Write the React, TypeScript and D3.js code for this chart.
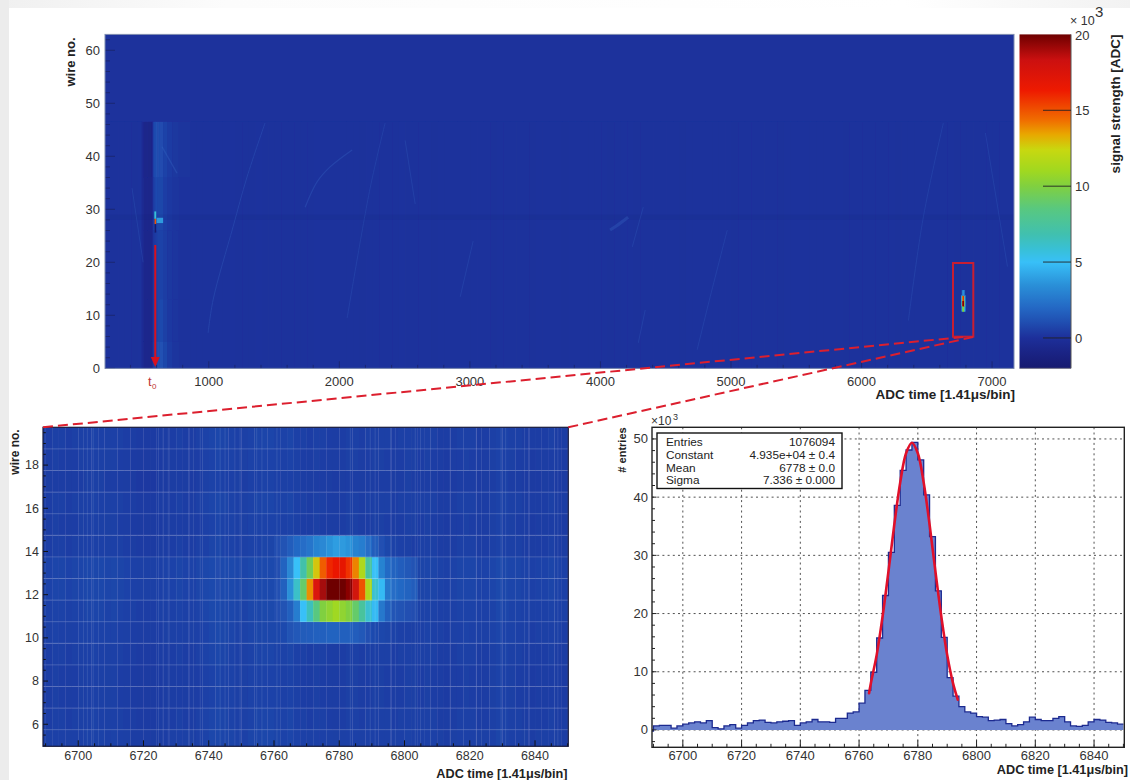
import React from "react";
import * as d3 from "d3";

// ---------- colour palette ----------
const paletteValues = [-2, -1, 0, 1.1, 2, 3.5, 5, 5.8, 6.8, 8.5, 10, 11, 12.4, 13.4, 14.3, 16.3, 18.3, 20];
const paletteColors = ["#171a70", "#1a2384", "#1d2f9a", "#2050b2", "#2468c4", "#2a90d8", "#38c0f8", "#38c0d8", "#40c0b0", "#58c880", "#80d040", "#a0d820", "#c8d810", "#e8a800", "#f07000", "#ee1a00", "#cc1010", "#6e0000"];
const colorTicks = [0, 5, 10, 15, 20];

// ---------- overview panel ----------
const overviewXTicks = [1000, 2000, 3000, 4000, 5000, 6000, 7000];
const overviewYTicks = [0, 10, 20, 30, 40, 50, 60];
const overviewStripeStart = 205;
const overviewStripeWidth = 50;
const overviewStripes = [
  0.09, 0.07, 0.1, 0.08, 0.06, 0.09, 0.1, 0.07, 0.08, 0.1, 0.12, 0.1, 0.09, 0.08, 0.11, 0.1, 0.07, 0.09, 0.1, 0.12,
  0.1, 0.08, 0.11, 0.13, 0.1, 0.09, 0.07, 0.1, 0.11, 0.09, 0.08, 0.1, 0.12, 0.1, 0.07, 0.09, 0.11, 0.1, 0.08, 0.06,
  0.09, 0.11, 0.1, 0.08, 0.1, 0.12, 0.09, 0.07, 0.1, 0.08, 0.06, 0.09, 0.1, 0.08, 0.07, 0.1, 0.11, 0.09, 0.08, 0.06,
  0.09, 0.07, 0.1, 0.11, 0.08, 0.06, 0.09, 0.1, 0.08, 0.07, 0.06, 0.08, 0.1, 0.07, 0.09, 0.1, 0.08, 0.06, 0.08, 0.1,
  0.07, 0.06, 0.08, 0.1, 0.09, 0.07, 0.1, 0.08, 0.06, 0.09, 0.11, 0.1, 0.07, 0.08, 0.1, 0.09, 0.06, 0.08, 0.1, 0.07,
  0.09, 0.1, 0.08, 0.06, 0.09, 0.07, 0.1, 0.11, 0.09, 0.07, 0.08, 0.1, 0.09, 0.06, 0.08, 0.1, 0.11, 0.08, 0.07, 0.1,
  0.08, 0.06, 0.09, 0.1, 0.08, 0.1, 0.07, 0.09, 0.1, 0.08, 0.06, 0.09, 0.07, 0.1, 0.08, 0.09, 0.07, 0.08, 0.09, 0.08,
];
const t0Edges = [485, 500, 530, 565, 575, 590, 605, 625, 650, 680, 720, 770, 860];
const t0Bands = [
  { from: 46.5, to: 36, values: [-0.3, -0.75, -0.8, -0.3, 0.9, 1.15, 1.0, 0.95, 0.65, 0.4, 0.25, 0.15] },
  { from: 36, to: 26, values: [-0.3, -0.7, -0.75, -0.3, 0.6, 0.9, 0.8, 0.75, 0.5, 0.33, 0.2, 0.12] },
  { from: 26, to: 13, values: [-0.25, -0.65, -0.7, -0.35, 0.3, 0.5, 0.65, 0.65, 0.45, 0.28, 0.18, 0.1] },
  { from: 13, to: 5, values: [-0.25, -0.65, -0.7, -0.3, 0.35, 0.6, 0.8, 0.85, 0.55, 0.3, 0.18, 0.1] },
  { from: 5, to: 0, values: [-0.25, -0.65, -0.7, -0.25, 0.45, 0.8, 1.05, 1.15, 0.8, 0.4, 0.2, 0.1] },
];
const t0Spots = [
  { t0: 583, t1: 597, w0: 28.2, w1: 29.6, v: 5.8 },
  { t0: 585, t1: 597, w0: 27.2, w1: 28.2, v: 15 },
  { t0: 585, t1: 597, w0: 25.6, w1: 27.2, v: -2 },
  { t0: 600, t1: 650, w0: 27.4, w1: 28.4, v: 3.8 },
];
const tracks = [
  { w: 0.8, pts: [[412, 34], [497, 20]] },
  { w: 1.4, pts: [[642, 41.8], [757, 36.8]] },
  { w: 1.0, pts: [[1431, 46.3], [1293, 36.1], [1186, 26.7], [1033, 12.9], [995, 6.7]] },
  { w: 1.2, pts: [[2098, 41.2], [1929, 38], [1830, 35.2], [1738, 30.4]] },
  { w: 0.8, pts: [[2351, 46.3], [2236, 34], [2060, 9.5]] },
  { w: 3.0, pts: [[4074, 26.1], [4130, 27], [4212, 28.5]] },
  { w: 0.8, pts: [[4972, 26.1], [4841, 13.5], [4741, 3.5]] },
  { w: 0.8, pts: [[4328, 30.4], [4244, 22.9]] },
  { w: 0.8, pts: [[4343, 11], [4290, 4.8]] },
  { w: 0.8, pts: [[2504, 43], [2581, 31]] },
  { w: 0.8, pts: [[3025, 24], [2926, 13.5]] },
  { w: 0.8, pts: [[6627, 46.3], [6474, 28.6], [6359, 9]] },
  { w: 0.8, pts: [[6949, 44.4], [7118, 19.2]] },
];

// ---------- zoomed heat map ----------
const heatXTicks = [6700, 6720, 6740, 6760, 6780, 6800, 6820, 6840];
const heatYTicks = [6, 8, 10, 12, 14, 16, 18];
const heatStart = 6688;
const heatBin = 2;
const heatRows = [5, 6, 7, 8, 9, 10, 11, 12, 13, 14, 15, 16, 17, 18, 19];
const heatRowOffset = [0.08, 0.04, 0, 0, 0.04, 0.1, 0.14, 0.2, 0.2, 0.03, 0, 0.04, -0.04, 0, 0.04];
const heatColumns = [
  0.5, 0.47, 0.52, 0.5, 0.47, 0.5, 0.52, 0.56, 0.58, 0.56, 0.52, 0.55, 0.5, 0.47, 0.4, 0.37, 0.37, 0.35, 0.4, 0.42,
  0.47, 0.5, 0.47, 0.44, 0.5, 0.58, 0.68, 0.72, 0.65, 0.62, 0.56, 0.52, 0.62, 0.65, 0.68, 0.68, 0.62, 0.6, 0.65, 0.56,
  0.5, 0.47, 0.52, 0.5, 0.47, 0.44, 0.47, 0.52, 0.52, 0.47, 0.5, 0.52, 0.52, 0.5, 0.47, 0.5, 0.56, 0.52, 0.5, 0.52,
  0.5, 0.44, 0.4, 0.44, 0.5, 0.52, 0.5, 0.44, 0.47, 0.52, 0.62, 0.58, 0.52, 0.5, 0.44, 0.4, 0.44, 0.47, 0.5, 0.44, 0.4,
];
const peakStart = 6760;
const peakRow14 = [1.0, 1.2, 1.6, 2.0, 2.2, 2.5, 3.0, 3.2, 3.6, 3.9, 3.8, 3.6, 3.0, 2.8, 2.2, 1.6, 1.1, 0.8, 0.65, 0.6, 0.55, 0.5];
const peakRow13 = [1.0, 1.8, 3.2, 5.0, 7.0, 9.5, 12.8, 14.8, 16.0, 16.5, 16.8, 15.8, 14.0, 11.5, 7.5, 5.0, 3.0, 2.1, 1.8, 1.6, 1.4, 1.2];
const peakRow12 = [1.1, 1.7, 3.5, 6.2, 9.0, 13.8, 17.5, 19.0, 20, 20, 20, 19.5, 18.0, 15.0, 11.5, 6.0, 4.8, 2.6, 2.2, 2.0, 1.8, 1.6];
const peakRow11 = [1.0, 1.2, 1.7, 2.8, 5.0, 6.5, 8.5, 10.0, 10.5, 11.0, 10.5, 10.0, 9.0, 7.5, 6.0, 4.8, 2.6, 1.7, 1.3, 1.2, 1.1, 1.0];
const peakRow10 = [0.8, 0.9, 1.2, 1.4, 1.5, 1.6, 1.7, 1.7, 1.8, 1.8, 1.7, 1.7, 1.6, 1.4, 1.1, 0.9, 0.8, 0.7, 0.65, 0.6, 0.6, 0.55];
const paleColumns = [
  6701.6, 6702.8, 6704.6, 6706.2, 6724.6, 6726, 6727.6, 6733.8, 6735.3, 6737.4, 6743.5, 6745, 6748, 6749.6, 6754.7,
  6756.3, 6760.9, 6783.4, 6789.5, 6791, 6795.7, 6797.2, 6803.3, 6804.9, 6808, 6814, 6822, 6823.6, 6829.6, 6831, 6836.8,
  6838.3, 6846, 6847,
];

// ---------- histogram ----------
const histXTicks = [6700, 6720, 6740, 6760, 6780, 6800, 6820, 6840];
const histYTicks = [0, 10, 20, 30, 40, 50];
const histStart = 6688;
const histBin = 2;
const histValues = [
  -0.2, 0.7, 0.8, 0.8, 0.3, 0.7, 1.0, 1.2, 1.4, 1.2, 1.6, 0.4, 0.2, 0.7, 0.9, 0.3, 0.8, 1.2, 1.6, 1.7, 1.3, 1.2, 1.4, 1.5,
  1.6, 0.8, 1.2, 1.4, 1.8, 1.4, 1.4, 1.3, 2.0, 2.0, 2.9, 3.1, 4.6, 6.8, 9.9, 15.8, 23.1, 30.5, 38.6, 44.6, 48.1, 49.4,
  46.4, 40.4, 33.2, 23.9, 15.9, 9.0, 5.8, 4.0, 3.1, 2.9, 2.3, 2.2, 1.6, 1.7, 1.8, 1.1, 0.7, 0.9, 1.4, 2.2, 1.8, 1.6, 1.6,
  2.0, 2.3, 1.4, 0.7, 0.6, 0.8, 1.4, 1.8, 1.7, 1.3, 1.2, 1.0,
];
const fitTimes = [6763.4, 6764, 6766, 6768, 6770, 6772, 6774, 6776, 6778, 6780, 6782, 6784, 6786, 6788, 6790, 6792, 6793.6];
const fitValues = [6.3, 8.0, 12.9, 19.5, 27.2, 35.3, 42.5, 47.55, 49.35, 47.55, 42.5, 35.3, 27.2, 19.5, 12.9, 8.0, 5.2];
const statNames = ["Entries", "Constant", "Mean", "Sigma"];
const statValues = ["1076094", "4.935e+04 ± 0.4", "6778 ± 0.0", "7.336 ± 0.000"];

// ---------- scales ----------
const color = d3.scaleLinear<string>().domain(paletteValues).range(paletteColors).clamp(true);

const ovX = d3.scaleLinear().domain([205, 7168]).range([105, 1014]);
const ovY = d3.scaleLinear().domain([0, 63]).range([368.3, 34.4]);
const cbY = d3.scaleLinear().domain([-2, 20]).range([368.3, 34.4]);
const htX = d3.scaleLinear().domain([6689.2, 6850.2]).range([43, 568.3]);
const htY = d3.scaleLinear().domain([4.98, 19.75]).range([746.3, 427.3]);
const hsX = d3.scaleLinear().domain([6689.5, 6850.3]).range([652, 1124.3]);
const hsY = d3.scaleLinear().domain([-2.98, 52]).range([747.3, 427.3]);

const FONT = "'Liberation Sans', Arial, sans-serif";
const INK = "#333";

const peakRows: Record<number, number[]> = { 14: peakRow14, 13: peakRow13, 12: peakRow12, 11: peakRow11, 10: peakRow10 };
const heatValue = (row: number, colIdx: number) => {
  const t = heatStart + colIdx * heatBin;
  const pk = peakRows[row];
  const k = (t - peakStart) / heatBin;
  if (pk && k >= 0 && k < pk.length) return pk[k];
  return heatColumns[colIdx] + heatRowOffset[heatRows.indexOf(row)];
};

const histEdges = histValues.map((_, i) => histStart + i * histBin);
const histPts: [number, number][] = histValues.map((v, i) => [histEdges[i], v]);
histPts.push([histStart + histValues.length * histBin, histValues[histValues.length - 1]]);
const histLine = d3.line<[number, number]>().x((d) => hsX(d[0])).y((d) => hsY(d[1])).curve(d3.curveStepAfter);
const histArea = d3.area<[number, number]>().x((d) => hsX(d[0])).y0(hsY(0)).y1((d) => hsY(d[1])).curve(d3.curveStepAfter);
const fitLine = d3.line<number>().x((_, i) => hsX(fitTimes[i])).y((d) => hsY(d)).curve(d3.curveCatmullRom);
const trackLine = d3.line<number[]>().x((d) => ovX(d[0])).y((d) => ovY(d[1])).curve(d3.curveCatmullRom);

const minorTicks = (a: number, b: number, step: number) => d3.range(a, b + step / 2, step);

const Ticks = ({ xs, ys, x, y, x0, y0, xLen, yLen, stroke, sw }: any) => (
  <g stroke={stroke} strokeWidth={sw} fill="none">
    {xs.map((t: number) => (
      <line key={"x" + t} x1={x(t)} x2={x(t)} y1={y0} y2={y0 - xLen} />
    ))}
    {ys.map((t: number) => (
      <line key={"y" + t} x1={x0} x2={x0 + yLen} y1={y(t)} y2={y(t)} />
    ))}
  </g>
);

export default function App() {
  const ovColW = ovX(1000) - ovX(1000 - overviewStripeWidth) + 0.6;
  return (
    <svg
      width={1130}
      height={780}
      viewBox="0 0 1130 780"
      style={{ position: "fixed", left: 0, top: 0, display: "block", background: "#fff" }}
      fontFamily={FONT}
    >
      <defs>
        <linearGradient id="topFade" x1="0" x2="1" y1="0" y2="0">
          <stop offset="0" stopColor="#f0f0f0" />
          <stop offset="0.2" stopColor="#fcfcfc" />
          <stop offset="0.8" stopColor="#ffffff" />
          <stop offset="1" stopColor="#f2f2f2" />
        </linearGradient>
        <linearGradient id="paletteBar" x1="0" x2="0" y1="1" y2="0">
          {paletteValues.map((v, i) => (
            <stop key={v} offset={(v + 2) / 22} stopColor={paletteColors[i]} />
          ))}
        </linearGradient>
        <clipPath id="ovClip"><rect x={105} y={34.4} width={909} height={334} /></clipPath>
        <clipPath id="htClip"><rect x={43} y={427.3} width={525.3} height={319} /></clipPath>
        <clipPath id="hsClip"><rect x={652} y={427.3} width={472.3} height={320} /></clipPath>
        <filter id="soft" x="-2%" y="-2%" width="104%" height="104%">
          <feGaussianBlur stdDeviation="0.55" />
        </filter>
      </defs>

      {/* page backdrop of the slide */}
      <rect x={0} y={0} width={1130} height={8} fill="url(#topFade)" />
      <rect x={0} y={0} width={9} height={780} fill="#ececec" />

      {/* ---------- overview ---------- */}
      <g clipPath="url(#ovClip)">
        <rect x={105} y={34} width={909} height={335} fill={color(0.1)} />
        <g filter="url(#soft)">
          {overviewStripes.map((v, i) => (
            <rect
              key={i}
              x={ovX(overviewStripeStart + i * overviewStripeWidth)}
              y={ovY(46.5)}
              width={ovColW}
              height={ovY(0) - ovY(46.5) + 4}
              fill={color(v)}
            />
          ))}
          {t0Bands.map((b, bi) =>
            b.values.map((v, i) => (
              <rect
                key={bi + "-" + i}
                x={ovX(t0Edges[i])}
                y={ovY(b.from)}
                width={ovX(t0Edges[i + 1]) - ovX(t0Edges[i]) + 0.3}
                height={ovY(b.to) - ovY(b.from) + (b.to === 0 ? 4 : 0.3)}
                fill={color(v)}
              />
            ))
          )}
        </g>
        <rect x={105} y={ovY(29)} width={909} height={ovY(28) - ovY(29)} fill="#101a60" opacity={0.08} />
        {tracks.map((tr, i) => (
          <path key={i} d={trackLine(tr.pts) ?? ""} fill="none" stroke="#3a6cc8" strokeWidth={tr.w} opacity={0.3} filter="url(#soft)" />
        ))}
        <g filter="url(#soft)">
          {t0Spots.map((s, i) => (
            <rect key={i} x={ovX(s.t0)} y={ovY(s.w1)} width={ovX(s.t1) - ovX(s.t0)} height={ovY(s.w0) - ovY(s.w1)} fill={color(s.v)} />
          ))}
          {/* the pulse, same cells as the zoomed map */}
          {[10, 11, 12, 13, 14].map((row) =>
            peakRows[row].map((_, k) => {
              const c = (peakStart + k * heatBin - heatStart) / heatBin;
              const v = heatValue(row, c);
              return v > 2 ? (
                <rect
                  key={row + "-" + k}
                  x={ovX(peakStart + k * heatBin)}
                  y={ovY(row + 0.75)}
                  width={ovX(heatBin) - ovX(0) + 0.4}
                  height={ovY(0) - ovY(1) + 0.2}
                  fill={color(v)}
                />
              ) : null;
            })
          )}
        </g>
      </g>
      <Ticks
        xs={minorTicks(400, 7000, 200).filter((t) => t % 1000 !== 0)}
        ys={minorTicks(2, 62, 2).filter((t) => t % 10 !== 0)}
        x={ovX} y={ovY} x0={105} y0={368.3} xLen={3.4} yLen={5} stroke="#1a2468" sw={0.8}
      />
      <Ticks xs={overviewXTicks} ys={overviewYTicks} x={ovX} y={ovY} x0={105} y0={368.3} xLen={7} yLen={10} stroke="#1a2468" sw={0.8} />
      <rect x={105} y={34.4} width={909} height={334} fill="none" stroke="#7d8bb0" strokeWidth={1} />
      <g fontSize={13} fill={INK}>
        {overviewXTicks.map((t) => (
          <text key={t} x={ovX(t)} y={386} textAnchor="middle">{t}</text>
        ))}
        {overviewYTicks.map((t) => (
          <text key={t} x={100} y={ovY(t) + 4.6} textAnchor="end">{t}</text>
        ))}
      </g>
      <text transform="translate(75,62) rotate(-90)" fontSize={13} fontWeight="bold" fill="#222" textAnchor="middle">wire no.</text>
      <text x={1015} y={399} fontSize={13.5} fontWeight="bold" fill="#222" textAnchor="end">ADC time [1.41μs/bin]</text>

      {/* ---------- colour bar ---------- */}
      <rect x={1019.5} y={34.4} width={51.5} height={334} fill="url(#paletteBar)" />
      <line x1={1071} x2={1071} y1={34.4} y2={368.3} stroke="#555" strokeWidth={1} />
      <line x1={1019.5} x2={1071} y1={368.3} y2={368.3} stroke="#667" strokeWidth={0.8} />
      {colorTicks.slice(0, -1).map((t) => (
        <line key={t} x1={1043} x2={1071} y1={cbY(t)} y2={cbY(t)} stroke="#222" strokeWidth={0.9} />
      ))}
      <g fontSize={13} fill={INK}>
        {colorTicks.map((t) => (
          <text key={t} x={1075} y={t === 20 ? 40 : cbY(t) + 4.6}>{t}</text>
        ))}
        <text x={1070} y={25} fontSize={12.5}>× 10</text>
        <text x={1095} y={17} fontSize={15}>3</text>
      </g>
      <text transform="translate(1120,104) rotate(-90)" fontSize={13.5} fontWeight="bold" fill="#222" textAnchor="middle">signal strength [ADC]</text>

      {/* ---------- zoomed heat map ---------- */}
      <g clipPath="url(#htClip)">
        <g filter="url(#soft)">
          {heatRows.map((row) =>
            heatColumns.map((_, c) => (
              <rect
                key={row + "-" + c}
                x={htX(heatStart + c * heatBin)}
                y={htY(row + 0.75)}
                width={htX(heatBin) - htX(0) + 0.3}
                height={htY(row - 0.25) - htY(row + 0.75) + 0.3}
                fill={color(heatValue(row, c))}
              />
            ))
          )}
        </g>
        {paleColumns.map((t) => (
          <line key={t} x1={htX(t)} x2={htX(t)} y1={427} y2={747} stroke="#fff" strokeWidth={1} opacity={0.1} />
        ))}
        {heatRows.map((row) => (
          <line key={row} x1={43} x2={568.3} y1={htY(row - 0.25)} y2={htY(row - 0.25)} stroke="#fff" strokeWidth={0.9} opacity={0.2} />
        ))}
      </g>
      <Ticks
        xs={minorTicks(6690, 6850, 5).filter((t) => t % 20 !== 0)}
        ys={minorTicks(5, 19.5, 0.5).filter((t) => t % 2 !== 0)}
        x={htX} y={htY} x0={43} y0={746.3} xLen={3} yLen={2.8} stroke="#111" sw={1}
      />
      <Ticks xs={heatXTicks} ys={heatYTicks} x={htX} y={htY} x0={43} y0={746.3} xLen={6} yLen={5} stroke="#111" sw={1} />
      <rect x={43} y={427.3} width={525.3} height={319} fill="none" stroke="#15183a" strokeWidth={1.2} />
      <g fontSize={12.5} fill={INK}>
        {heatXTicks.map((t) => (
          <text key={t} x={htX(t)} y={759.5} textAnchor="middle">{t}</text>
        ))}
        {heatYTicks.map((t) => (
          <text key={t} x={39} y={htY(t) + 4.4} textAnchor="end">{t}</text>
        ))}
      </g>
      <text transform="translate(19,452) rotate(-90)" fontSize={12} fontWeight="bold" fill="#222" textAnchor="middle">wire no.</text>
      <text x={567.5} y={777.5} fontSize={12.7} fontWeight="bold" fill="#222" textAnchor="end">ADC time [1.41μs/bin]</text>

      {/* ---------- histogram ---------- */}
      <g stroke="#333" strokeWidth={1} strokeDasharray="2 3.2" opacity={0.85}>
        {histXTicks.map((t) => (
          <line key={t} x1={hsX(t)} x2={hsX(t)} y1={427.3} y2={747.3} />
        ))}
        {histYTicks.map((t) => (
          <line key={t} x1={652} x2={1124.3} y1={hsY(t)} y2={hsY(t)} />
        ))}
      </g>
      <g clipPath="url(#hsClip)">
        <path d={histArea(histPts) ?? ""} fill="#6a82cf" />
        <path d={histLine(histPts) ?? ""} fill="none" stroke="#1c2a90" strokeWidth={1.3} />
        <path d={fitLine(fitValues) ?? ""} fill="none" stroke="#e0102a" strokeWidth={2.6} strokeLinecap="round" />
      </g>
      <Ticks
        xs={minorTicks(6690, 6850, 5).filter((t) => t % 20 !== 0)}
        ys={minorTicks(-2, 50, 2).filter((t) => t % 10 !== 0)}
        x={hsX} y={hsY} x0={652} y0={747.3} xLen={3.5} yLen={3} stroke="#222" sw={1}
      />
      <Ticks xs={histXTicks} ys={histYTicks} x={hsX} y={hsY} x0={652} y0={747.3} xLen={7} yLen={4.5} stroke="#222" sw={1} />
      <rect x={652} y={427.3} width={472.3} height={320} fill="none" stroke="#222" strokeWidth={1.4} />
      <g fontSize={13} fill={INK}>
        {histXTicks.map((t) => (
          <text key={t} x={hsX(t)} y={759.5} textAnchor="middle">{t}</text>
        ))}
        {histYTicks.map((t) => (
          <text key={t} x={648} y={hsY(t) + 4.5} textAnchor="end">{t}</text>
        ))}
      </g>
      <text x={651} y={425} fontSize={12} fill={INK}>×10</text>
      <text x={673} y={420} fontSize={9} fill={INK}>3</text>
      <text transform="translate(626,450) rotate(-90)" fontSize={11} fontWeight="bold" fill="#222" textAnchor="middle"># entries</text>
      <text x={1128} y={774} fontSize={12.7} fontWeight="bold" fill="#222" textAnchor="end">ADC time [1.41μs/bin]</text>

      {/* stats box */}
      <rect x={657} y={433} width={185} height={55.5} fill="#fff" stroke="#111" strokeWidth={1.4} />
      <g fontSize={11.8} fill="#222">
        {statNames.map((n, i) => (
          <text key={n} x={666} y={446 + i * 12.8}>{n}</text>
        ))}
        {statValues.map((v, i) => (
          <text key={v} x={835} y={446 + i * 12.8} textAnchor="end">{v}</text>
        ))}
      </g>

      {/* ---------- annotations ---------- */}
      <line x1={ovX(590)} x2={ovX(590)} y1={245} y2={358} stroke="#d8101f" strokeWidth={2} />
      <path d={`M${ovX(590) - 4.5},357 L${ovX(590) + 4.5},357 L${ovX(590)},367 Z`} fill="#d8101f" />
      <text x={148} y={386} fontSize={13} fill="#c03535">t</text>
      <text x={152} y={389} fontSize={8} fill="#c03535">0</text>
      <rect x={953} y={263} width={20.3} height={73.7} fill="none" stroke="#c81e32" strokeWidth={2} />
      <line x1={43} y1={427.3} x2={963} y2={337} stroke="#dc1f2e" strokeWidth={2} strokeDasharray="10 5" />
      <line x1={568.3} y1={427.3} x2={973} y2={337} stroke="#dc1f2e" strokeWidth={2} strokeDasharray="10 5" />
    </svg>
  );
}
